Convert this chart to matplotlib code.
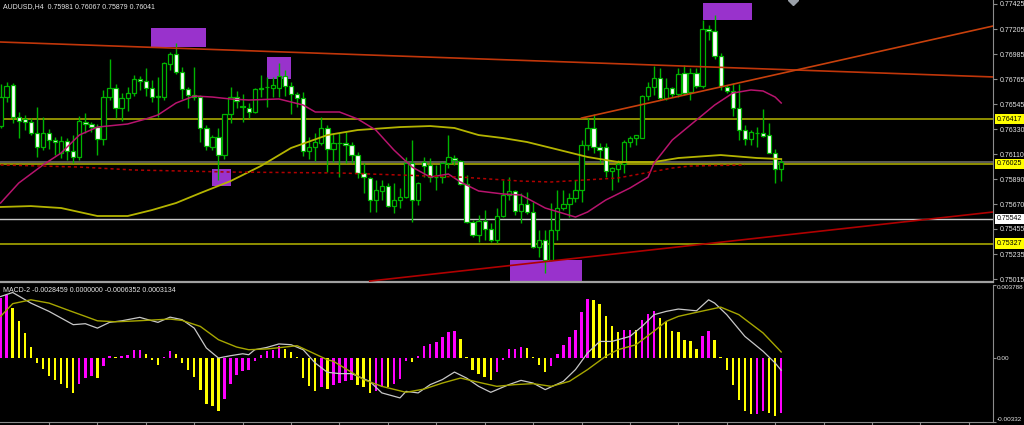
import numpy as np
import matplotlib
matplotlib.use('Agg')
import matplotlib.pyplot as plt
from matplotlib.patches import Rectangle
from matplotlib.transforms import blended_transform_factory

plt.rcParams['font.family'] = ['Liberation Sans', 'DejaVu Sans']

title = 'AUDUSD,H4  0.75981 0.76067 0.75879 0.76041'
macd_title = 'MACD-2 -0.0028459 0.0000000 -0.0006352 0.0003134'

# H4 bars, oldest first
opens = [0.76356, 0.76610, 0.76715, 0.76435, 0.76418, 0.76391, 0.76295, 0.76172, 0.76295, 0.76234,
         0.76120, 0.76225, 0.76137, 0.76085, 0.76391, 0.76374, 0.76348, 0.76242, 0.76610, 0.76689,
         0.76514, 0.76602, 0.76645, 0.76768, 0.76750, 0.76689, 0.76610, 0.76610, 0.76899, 0.76987,
         0.76829, 0.76680, 0.76628, 0.76610, 0.76339, 0.76172, 0.76260, 0.76102, 0.76461, 0.76610,
         0.76531, 0.76514, 0.76479, 0.76689, 0.76698, 0.76689, 0.76689, 0.76794, 0.76707, 0.76637,
         0.76602, 0.76137, 0.76172, 0.76207, 0.76339, 0.76155, 0.76207, 0.76207, 0.76190, 0.76102,
         0.75945, 0.75901, 0.75708, 0.75787, 0.75831, 0.75655, 0.75708, 0.75734, 0.76032, 0.75708,
         0.76041, 0.76015, 0.75909, 0.75909, 0.76032, 0.76076, 0.76050, 0.75848, 0.75515, 0.75401,
         0.75524, 0.75454, 0.75358, 0.75568, 0.75752, 0.75787, 0.75612, 0.75673, 0.75603, 0.75296,
         0.75358, 0.75182, 0.75445, 0.75638, 0.75673, 0.75726, 0.75796, 0.76190, 0.76339, 0.76172,
         0.76172, 0.75962, 0.75980, 0.76023, 0.76216, 0.76251, 0.76251, 0.76619, 0.76698, 0.76777,
         0.76602, 0.76689, 0.76637, 0.76821, 0.76654, 0.76821, 0.76707, 0.77206, 0.77188, 0.76969,
         0.76698, 0.76663, 0.76514, 0.76321, 0.76242, 0.76295, 0.76295, 0.76277, 0.76120, 0.75981]
highs = [0.76724, 0.76742, 0.76733, 0.76479, 0.76453, 0.76426, 0.76523, 0.76435, 0.76330, 0.76260,
         0.76269, 0.76251, 0.76277, 0.76444, 0.76470, 0.76391, 0.76374, 0.76672, 0.76943, 0.76724,
         0.76645, 0.76698, 0.76803, 0.76794, 0.76864, 0.76759, 0.76785, 0.76917, 0.77005, 0.77083,
         0.76873, 0.76698, 0.76873, 0.76628, 0.76365, 0.76277, 0.76339, 0.76461, 0.76698, 0.76663,
         0.76637, 0.76558, 0.76689, 0.76803, 0.76785, 0.76785, 0.76908, 0.76847, 0.76742, 0.76654,
         0.76654, 0.76260, 0.76295, 0.76435, 0.76365, 0.76295, 0.76295, 0.76304, 0.76216, 0.76129,
         0.76032, 0.75909, 0.75883, 0.75883, 0.75857, 0.75857, 0.75813, 0.76085, 0.76234, 0.75866,
         0.76085, 0.76076, 0.76015, 0.76041, 0.76277, 0.76102, 0.76058, 0.75927, 0.75533, 0.75577,
         0.75620, 0.75507, 0.75638, 0.75883, 0.75909, 0.75796, 0.75769, 0.75778, 0.75690, 0.75445,
         0.75445, 0.75682, 0.75796, 0.75796, 0.75769, 0.75883, 0.76234, 0.76426, 0.76461, 0.76207,
         0.76207, 0.75997, 0.76058, 0.76234, 0.76269, 0.76277, 0.76628, 0.76742, 0.76882, 0.76864,
         0.76777, 0.76698, 0.76864, 0.76891, 0.76864, 0.76864, 0.77285, 0.77241, 0.77329, 0.76996,
         0.76715, 0.76733, 0.76724, 0.76365, 0.76321, 0.76348, 0.76505, 0.76383, 0.76155, 0.76067]
lows = [0.76339, 0.76567, 0.76383, 0.76251, 0.76321, 0.76277, 0.76085, 0.76146, 0.76155, 0.76102,
        0.76076, 0.76058, 0.76032, 0.76058, 0.76295, 0.76304, 0.76102, 0.76190, 0.76584, 0.76426,
        0.76400, 0.76488, 0.76619, 0.76672, 0.76619, 0.76567, 0.76435, 0.76584, 0.76847, 0.76812,
        0.76593, 0.76514, 0.76584, 0.76216, 0.76146, 0.76146, 0.75883, 0.76067, 0.76383, 0.76514,
        0.76391, 0.76426, 0.76470, 0.76610, 0.76523, 0.76610, 0.76610, 0.76619, 0.76461, 0.76523,
        0.76093, 0.76067, 0.76050, 0.76190, 0.75953, 0.76041, 0.75909, 0.76032, 0.76032, 0.75901,
        0.75769, 0.75603, 0.75603, 0.75708, 0.75647, 0.75594, 0.75638, 0.75726, 0.75515, 0.75664,
        0.75909, 0.75866, 0.75796, 0.75857, 0.75988, 0.76015, 0.75839, 0.75507, 0.75384, 0.75340,
        0.75358, 0.75340, 0.75331, 0.75559, 0.75708, 0.75577, 0.75507, 0.75585, 0.75288, 0.75209,
        0.75069, 0.75174, 0.75358, 0.75620, 0.75559, 0.75690, 0.75690, 0.76146, 0.76120, 0.76032,
        0.75909, 0.75796, 0.75866, 0.75945, 0.76172, 0.76190, 0.76251, 0.76584, 0.76628, 0.76584,
        0.76584, 0.76610, 0.76610, 0.76628, 0.76584, 0.76689, 0.76689, 0.77110, 0.76943, 0.76672,
        0.76645, 0.76444, 0.76234, 0.76190, 0.76190, 0.76172, 0.76260, 0.76120, 0.75857, 0.75879]
closes = [0.76610, 0.76707, 0.76435, 0.76400, 0.76391, 0.76295, 0.76172, 0.76295, 0.76234, 0.76216,
          0.76225, 0.76137, 0.76085, 0.76400, 0.76374, 0.76348, 0.76242, 0.76610, 0.76689, 0.76514,
          0.76602, 0.76645, 0.76768, 0.76750, 0.76689, 0.76610, 0.76619, 0.76908, 0.76987, 0.76829,
          0.76680, 0.76628, 0.76610, 0.76339, 0.76181, 0.76260, 0.76102, 0.76461, 0.76610, 0.76575,
          0.76523, 0.76479, 0.76680, 0.76680, 0.76698, 0.76715, 0.76794, 0.76707, 0.76637, 0.76602,
          0.76137, 0.76172, 0.76216, 0.76339, 0.76155, 0.76207, 0.76207, 0.76190, 0.76102, 0.75945,
          0.75909, 0.75708, 0.75796, 0.75831, 0.75655, 0.75708, 0.75734, 0.76032, 0.75708, 0.75857,
          0.76006, 0.75909, 0.75909, 0.76032, 0.76085, 0.76058, 0.75848, 0.75515, 0.75401, 0.75524,
          0.75454, 0.75358, 0.75568, 0.75752, 0.75787, 0.75612, 0.75673, 0.75603, 0.75296, 0.75358,
          0.75182, 0.75445, 0.75638, 0.75673, 0.75726, 0.75796, 0.76190, 0.76339, 0.76172, 0.76146,
          0.75962, 0.75988, 0.76023, 0.76216, 0.76251, 0.76277, 0.76619, 0.76698, 0.76777, 0.76602,
          0.76689, 0.76637, 0.76812, 0.76645, 0.76821, 0.76707, 0.77206, 0.77188, 0.76969, 0.76707,
          0.76663, 0.76514, 0.76321, 0.76242, 0.76304, 0.76295, 0.76269, 0.76120, 0.75980, 0.76041]

# moving averages (bar index, price)
ma_fast_idx = [0, 3, 7, 10, 13, 16, 21, 24, 26, 29, 32, 35, 38, 41, 46, 50, 52, 56, 59, 62, 65, 68, 71,
               74, 76, 79, 83, 86, 90, 95, 97, 100, 104, 107, 108, 111, 115, 118, 121, 124, 126, 128, 129]
ma_fast = [0.75682, 0.75857, 0.76015, 0.76120, 0.76277, 0.76347, 0.76374, 0.76418, 0.76453, 0.76558,
           0.76619, 0.76610, 0.76593, 0.76584, 0.76593, 0.76540, 0.76479, 0.76479, 0.76418, 0.76321,
           0.76146, 0.75997, 0.75909, 0.75936, 0.75866, 0.75787, 0.75761, 0.75752, 0.75638, 0.75559,
           0.75603, 0.75708, 0.75813, 0.75909, 0.76032, 0.76234, 0.76409, 0.76540, 0.76645, 0.76672,
           0.76663, 0.76610, 0.76558]
ma_slow_idx = [0, 5, 10, 16, 21, 25, 29, 33, 38, 43, 48, 54, 59, 66, 71, 75, 79, 83, 87, 91, 97, 102,
               108, 112, 119, 125, 129]
ma_slow = [0.75647, 0.75655, 0.75638, 0.75568, 0.75568, 0.75620, 0.75682, 0.75769, 0.75874, 0.76006,
           0.76164, 0.76277, 0.76321, 0.76347, 0.76356, 0.76339, 0.76277, 0.76251, 0.76216, 0.76164,
           0.76085, 0.76041, 0.76041, 0.76076, 0.76102, 0.76076, 0.76067]
ma_long_idx = [0, 13, 22, 38, 56, 76, 86, 91, 102, 111, 114, 123]
ma_long = [0.76015, 0.75997, 0.75971, 0.75953, 0.75945, 0.75909, 0.75874, 0.75866, 0.75901, 0.75988,
           0.76006, 0.76015]

# horizontal levels
yellow_levels = [0.76417, 0.76025, 0.75327]
white_level = 0.75542
bid = 0.76041

# trend lines: (bar start, price start, bar end, price end)
trend_down = (0, 0.77092, 164, 0.76786)
trend_up_top = (96, 0.76426, 164, 0.77232)
trend_up_low = (61, 0.74998, 164, 0.75603)

# highlighted zones: bar from, bar to, price low, price high
zone_from = [24.9, 44.0, 35.0, 84.1, 116.0]
zone_to = [33.9, 48.0, 38.0, 96.0, 124.1]
zone_low = [0.77048, 0.76768, 0.75831, 0.74950, 0.77285]
zone_high = [0.77215, 0.76961, 0.75980, 0.75182, 0.77434]

price_ticks = [0.77425, 0.77205, 0.76985, 0.76765, 0.76545, 0.76330, 0.76110,
               0.75890, 0.75670, 0.75455, 0.75235, 0.75015]

# MACD histogram per bar
macd_hist = [0.00311, 0.00325, 0.00259, 0.0019, 0.0013, 0.00055, -0.00026, -0.00055, -0.00092, -0.00116,
             -0.00133, -0.00155, -0.00181, -0.00133, -0.00104, -0.00095, -0.00104, -0.00043, 0.00012, 0.00005,
             0.00012, 0.00016, 0.0004, 0.0004, 0.00022, -0.00012, -0.00035, 0.00005, 0.00038, 0.00022,
             -0.00026, -0.00064, -0.00098, -0.00164, -0.00237, -0.0025, -0.00276, -0.00212, -0.00133, -0.0009,
             -0.00069, -0.00064, -0.00014, 0.00017, 0.00035, 0.00043, 0.0006, 0.00048, 0.00029, 0.00005,
             -0.00104, -0.00147, -0.00173, -0.0015, -0.0016, -0.0014, -0.0013, -0.00118, -0.00115, -0.00138,
             -0.0015, -0.00181, -0.00173, -0.0015, -0.00153, -0.00133, -0.00107, -0.00017, -0.00022, 0.00009,
             0.0006, 0.00074, 0.00081, 0.00109, 0.00133, 0.00142, 0.00098, 0.00005, -0.00064, -0.00081,
             -0.00098, -0.00112, -0.00074, -0.00012, 0.00047, 0.00048, 0.00057, 0.0005, 0.00005, -0.00035,
             -0.00074, -0.00043, 0.00022, 0.00069, 0.00109, 0.00147, 0.00237, 0.00306, 0.00302, 0.00281,
             0.00216, 0.00168, 0.00133, 0.00143, 0.00147, 0.00143, 0.00195, 0.0023, 0.00245, 0.00207,
             0.00185, 0.00142, 0.00135, 0.00092, 0.00086, 0.00048, 0.00112, 0.00138, 0.00095, 0.00005,
             -0.00064, -0.00138, -0.00216, -0.00276, -0.00288, -0.00288, -0.00276, -0.00285, -0.00302, -0.0028459]

macd_main_idx = [0, 2, 5, 8, 12, 14, 16, 18, 20, 23, 24, 26, 28, 30, 32, 34, 36, 38, 40, 41, 42, 44, 46,
                 48, 50, 52, 54, 56, 58, 61, 63, 66, 67, 69, 71, 73, 75, 77, 79, 81, 84, 86, 88, 90, 93,
                 95, 97, 99, 101, 104, 106, 108, 110, 112, 115, 117, 118, 120, 123, 126, 128, 129]
macd_main = [0.00319, 0.0034, 0.00285, 0.00242, 0.00173, 0.00178, 0.00155, 0.00185, 0.00193, 0.00211,
             0.00202, 0.00185, 0.00212, 0.00199, 0.00155, 0.00052, 0.0, 0.00012, 0.00022, 0.00017,
             0.00043, 0.00055, 0.00073, 0.00069, 0.00043, -0.00026, -0.00074, -0.00081, -0.00081, -0.00121,
             -0.00181, -0.00207, -0.00173, -0.00181, -0.00138, -0.00112, -0.00073, -0.00104, -0.00147, -0.00178,
             -0.00138, -0.00116, -0.0013, -0.00164, -0.00121, -0.0006, 0.00026, 0.00086, 0.00086, 0.00112,
             0.00164, 0.00225, 0.00242, 0.00254, 0.00245, 0.00302, 0.00285, 0.00225, 0.00112, 0.00035,
             -0.00026, -0.0006352]
macd_signal_idx = [0, 2, 5, 8, 11, 14, 16, 19, 22, 25, 28, 30, 33, 36, 39, 41, 44, 47, 49, 51, 54, 55, 60,
                   63, 67, 70, 73, 76, 79, 82, 85, 88, 91, 94, 97, 100, 102, 105, 108, 110, 112, 115,
                   119, 122, 126, 129]
macd_signal = [0.00216, 0.00282, 0.00302, 0.00285, 0.0025, 0.00216, 0.00193, 0.00188, 0.00192, 0.00197,
               0.00202, 0.00195, 0.00164, 0.00095, 0.00057, 0.00043, 0.00047, 0.00057, 0.00064, 0.00035,
               -0.00009, -0.00017, -0.00112, -0.00147, -0.00178, -0.00161, -0.0013, -0.00104, -0.00126,
               -0.00147, -0.00138, -0.00133, -0.00147, -0.00121, -0.0006, 0.00009, 0.00043, 0.00069,
               0.0014, 0.0019, 0.00216, 0.00237, 0.00264, 0.00225, 0.0013, 0.0003134]
macd_max, macd_min = 0.003788, -0.00332

W, H = 1024, 425
green = '#00b400'
grey = '#8c8c8c'

fig = plt.figure(figsize=(W / 100, H / 100), dpi=100, facecolor='black')
ax = fig.add_axes([0, 1 - 282 / H, 993 / W, 282 / H], facecolor='black')
axm = fig.add_axes([0, 1 - 422 / H, 993 / W, 137 / H], facecolor='black')

idx = np.arange(len(opens))
o = np.array(opens); h = np.array(highs); l = np.array(lows); c = np.array(closes)

# zones behind everything
for x0, x1, lo, hi in zip(zone_from, zone_to, zone_low, zone_high):
    ax.add_patch(Rectangle((x0, lo), x1 - x0, hi - lo, facecolor='#9932cc',
                           edgecolor='none', zorder=0))

# levels
for lv in yellow_levels:
    ax.axhline(lv, color='#a8a800', lw=1.2, zorder=1)
ax.axhline(bid, color='#6a6a6a', lw=1.2, zorder=1)
ax.axhline(white_level, color='#c8c8c8', lw=1.0, zorder=1)

# candles
ax.vlines(idx, l, h, color=green, lw=1.0, zorder=2)
bw = 0.72
for i in idx:
    bottom = min(o[i], c[i])
    height = max(abs(c[i] - o[i]), 0.000015)
    face = 'white' if c[i] < o[i] else 'black'
    ax.add_patch(Rectangle((i - bw / 2, bottom), bw, height, facecolor=face,
                           edgecolor=green, lw=0.9, zorder=3))

# moving averages
ax.plot(ma_slow_idx, ma_slow, color='#b4b400', lw=1.3, zorder=4)
ax.plot(ma_fast_idx, ma_fast, color='#b8146e', lw=1.1, zorder=4)
ax.plot(ma_long_idx, ma_long, color='#b00000', lw=1.1, ls=(0, (2, 2)), zorder=4)

# trend lines
for (x0, p0, x1, p1), col in [(trend_down, '#c0360a'), (trend_up_top, '#c8400c'),
                              (trend_up_low, '#b00000')]:
    ax.plot([x0, x1], [p0, p1], color=col, lw=1.2, zorder=4)

# small marker at top
ax.plot([131], [0.77462], marker='D', ms=5, color='#9aa0a8', clip_on=True, zorder=5)

ax.set_xlim(-0.1, 164.0)
ax.set_ylim(0.74990, 0.77460)
ax.yaxis.tick_right()
ax.set_yticks(price_ticks)
ax.set_yticklabels([f'{v:.5f}' for v in price_ticks])
ax.tick_params(axis='y', colors=grey, labelcolor='#e6e6e6', labelsize=5, length=3, pad=2)
ax.tick_params(axis='x', bottom=False, labelbottom=False)
for s in ['top', 'left']:
    ax.spines[s].set_visible(False)
ax.spines['right'].set_color(grey)
ax.spines['bottom'].set_color('#a0a0a0')
ax.spines['bottom'].set_linewidth(1.6)

tr = blended_transform_factory(ax.transAxes, ax.transData)
for lv in [0.76417, 0.76025, 0.75327]:
    ax.text(1.004, lv, f'{lv:.5f}', transform=tr, fontsize=5, color='black', va='center',
            ha='left', bbox=dict(boxstyle='square,pad=0.25', fc='#ffff00', ec='none'), zorder=6,
            clip_on=False)
ax.text(1.004, white_level, f'{white_level:.5f}', transform=tr, fontsize=5, color='black',
        va='center', ha='left', bbox=dict(boxstyle='square,pad=0.25', fc='white', ec='none'),
        zorder=6, clip_on=False)

# MACD panel
hist = np.array(macd_hist)
prev = np.concatenate([[hist[0]], hist[:-1]])
cols = np.where(hist >= prev, '#ff00ff', '#ffff00')
axm.bar(idx, hist, width=0.4, color=cols, zorder=2)
axm.plot(macd_main_idx, macd_main, color='#c8c8c8', lw=0.9, zorder=3)
axm.plot(macd_signal_idx, macd_signal, color='#a6a600', lw=1.0, zorder=3)
axm.set_xlim(-0.1, 164.0)
axm.set_ylim(macd_min, macd_max)
axm.yaxis.tick_right()
axm.set_yticks([macd_max, 0.0, macd_min])
axm.set_yticklabels(['0.003788', '0.00', '-0.00332'])
for lbl, va in zip(axm.get_yticklabels(), ['top', 'center', 'bottom']):
    lbl.set_va(va)
    lbl.set_fontsize(4.6)
axm.tick_params(axis='y', colors=grey, labelcolor='#e6e6e6', length=2, pad=1)
axm.set_xticks(np.arange(8, 164, 8))
axm.tick_params(axis='x', colors=grey, length=3, labelbottom=False)
for s in ['top', 'left']:
    axm.spines[s].set_visible(False)
axm.spines['right'].set_color(grey)
axm.spines['bottom'].set_color(grey)

fig.text(3 / W, 1 - 7 / H, title, fontsize=5.0, color='#e8e8e8', va='center', ha='left')
fig.text(3 / W, 1 - 290 / H, macd_title, fontsize=5.0, color='#e8e8e8', va='center', ha='left')

fig.savefig('out.png', dpi=100, facecolor='black')
